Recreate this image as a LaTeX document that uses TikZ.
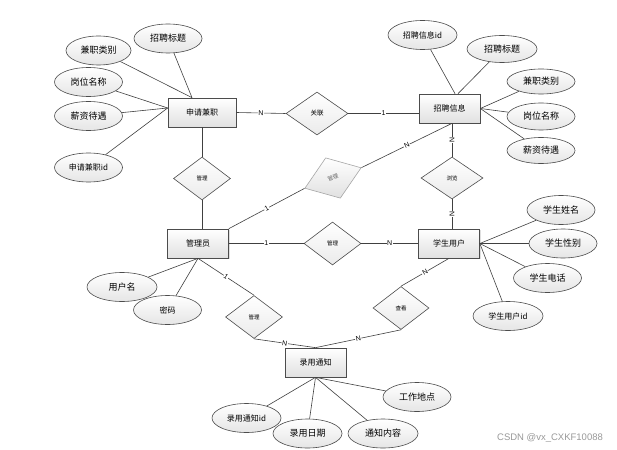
\documentclass[tikz,border=0pt]{standalone}
\usepackage{fontspec}
\setmainfont{Liberation Sans}
\newfontfamily\cjk{Noto Sans CJK SC}
\usetikzlibrary{shapes.geometric,shadows}
\begin{document}
\begin{tikzpicture}[x=1pt,y=-1pt,
  ent/.style={draw=black!70, line width=0.7pt, rectangle, minimum width=61pt, minimum height=29pt,
    top color=white, bottom color=black!12, font=\cjk\fontsize{8}{9}\selectfont, inner sep=1pt,
    drop shadow={shadow xshift=1pt, shadow yshift=-1pt, opacity=0.25}},
  attr/.style={draw=black!70, line width=0.6pt, ellipse, minimum width=68pt, minimum height=29pt,
    top color=white, bottom color=black!10, font=\cjk\fontsize{9}{10}\selectfont, inner sep=0pt},
  sattr/.style={attr, font=\cjk\fontsize{8}{9}\selectfont},
  rel/.style={draw=black!70, line width=0.6pt, diamond, minimum width=57pt, minimum height=43pt,
    top color=white, bottom color=black!8, font=\cjk\fontsize{5.5}{6}\selectfont, inner sep=0pt},
  link/.style={draw=black!75, line width=0.6pt},
  lab/.style={font=\fontsize{7}{8}\selectfont, fill=white, inner sep=0.6pt, sloped}]
\useasboundingbox[fill=white] (0,0) rectangle (617,449);

% entities
\node[ent, minimum width=68pt] (sq) at (202,112.5) {申请兼职};
\node[ent] (zp) at (449.5,108.5) {招聘信息};
\node[ent] (gly) at (198,243.5) {管理员};
\node[ent] (xs) at (449,243.5) {学生用户};
\node[ent] (ly) at (315.5,362.5) {录用通知};

% relations
\node[rel, minimum width=62pt, font=\cjk\fontsize{6.5}{7}\selectfont] (gl) at (317,113.5) {关联};
\node[rel] (r1) at (202,178.5) {管理};
\node[rel, minimum width=60pt, rotate=20, draw=black!35, text=black!60, bottom color=black!12] (r2) at (333,178) {管理};
\node[rel] (r3) at (332.5,243.5) {管理};
\node[rel, minimum width=62pt, minimum height=42pt] (r4) at (452,178) {浏览};
\node[rel] (r5) at (254,317) {管理};
\node[rel, minimum width=56pt] (r6) at (401,308) {查看};

% relation connectors
\draw[link] (sq.east) -- (gl.west) node[lab, pos=0.5] {N};
\draw[link] (gl.east) -- (gl.east -| zp.west) node[lab, pos=0.5] {1};
\draw[link] (sq.south) -- (r1.north);
\draw[link] (r1.south) -- (r1.south |- gly.north);
\draw[link] (gly.north east) -- (r2.west) node[lab, pos=0.5] {1};
\draw[link] (r2.east) -- ([xshift=2.5pt]zp.south) node[lab, pos=0.5] {N};
\draw[link] (r4.north |- zp.south) -- (r4.north) node[lab, pos=0.5] {N};
\draw[link] (r4.south) -- (r4.south |- xs.north) node[lab, pos=0.5] {N};
\draw[link] (gly.east) -- (r3.west) node[lab, pos=0.5] {1};
\draw[link] (r3.east) -- (xs.west) node[lab, pos=0.5] {N};
\draw[link] (gly.south) -- (r5.north) node[lab, pos=0.5] {1};
\draw[link] (r5.south) -- (ly.north) node[lab, pos=0.5] {N};
\draw[link] (xs.south) -- (r6.north) node[lab, pos=0.5] {N};
\draw[link] (r6.south) -- (ly.north) node[lab, pos=0.5] {N};

% attributes of 申请兼职
\node[attr] (a1) at (168,38.5) {招聘标题};
\node[attr, minimum width=65pt] (a2) at (98.5,50.5) {兼职类别};
\node[attr] (a3) at (88.5,82) {岗位名称};
\node[attr] (a4) at (88.5,116) {薪资待遇};
\node[sattr] (a5) at (88.5,167.5) {申请兼职id};
\draw[link] (a1) -- ([xshift=-10pt]sq.north);
\draw[link] (a2) -- ([xshift=-10pt]sq.north);
\draw[link] (a3) -- ([yshift=4.5pt]sq.west);
\draw[link] (a4) -- ([yshift=4.5pt]sq.west);
\draw[link] (a5) -- ([yshift=4.5pt]sq.west);

% attributes of 招聘信息
\node[sattr, minimum width=69pt] (b1) at (422.5,35) {招聘信息id};
\node[attr, minimum width=70pt, minimum height=27pt] (b2) at (502,49) {招聘标题};
\node[attr, minimum height=25pt] (b3) at (541,81.5) {兼职类别};
\node[attr, minimum height=27pt] (b4) at (541,116.5) {岗位名称};
\node[attr, minimum height=26pt] (b5) at (541,150.5) {薪资待遇};
\draw[link] (b1) -- ([xshift=5.5pt]zp.north);
\draw[link] (b2) -- ([xshift=8.5pt]zp.north);
\draw[link] (b3) -- (zp.east);
\draw[link] (b4) -- (zp.east);
\draw[link] (b5) -- (zp.east);

% attributes of 学生用户
\node[attr] (c1) at (561,210) {学生姓名};
\node[attr] (c2) at (563,243.5) {学生性别};
\node[attr] (c3) at (547.5,278) {学生电话};
\node[sattr, minimum width=70pt] (c4) at (508,316) {学生用户id};
\draw[link] (c1) -- (xs.east);
\draw[link] (c2) -- (xs.east);
\draw[link] (c3) -- (xs.east);
\draw[link] (c4) -- (xs.east);

% attributes of 管理员
\node[attr, minimum width=70pt] (d1) at (122,287) {用户名};
\node[sattr] (d2) at (167.5,310) {密码};
\draw[link] (d1) -- (gly.south);
\draw[link] (d2) -- (gly.south);

% attributes of 录用通知
\node[sattr, minimum width=69pt] (e1) at (246.5,418) {录用通知id};
\node[attr, minimum width=69pt] (e2) at (307.5,433.5) {录用日期};
\node[attr, minimum width=70pt] (e3) at (383,433.5) {通知内容};
\node[attr] (e4) at (417,397) {工作地点};
\draw[link] (e1) -- (ly.south);
\draw[link] (e2) -- (ly.south);
\draw[link] (e3) -- (ly.south);
\draw[link] (e4) -- (ly.south);

% watermark
\node[text=black!40, font=\fontsize{9.5}{10}\selectfont, inner sep=0pt] (wm) at (550,437.5) {CSDN @vx\_CXKF10088};
\end{tikzpicture}
\end{document}
